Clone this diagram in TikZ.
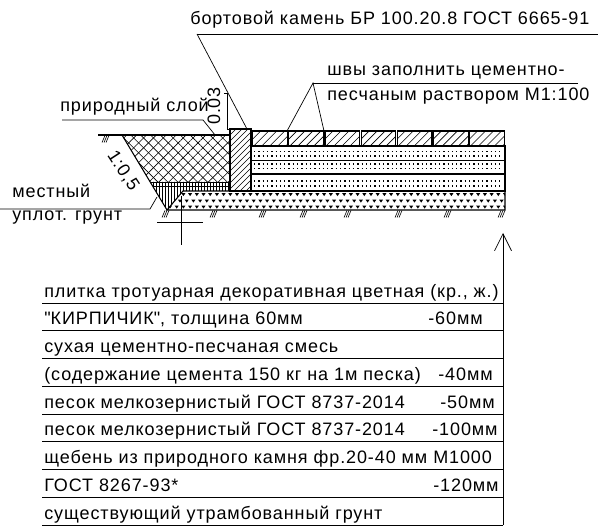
\documentclass[tikz,border=0pt]{standalone}
\usepackage{fontspec}
\setmainfont{Liberation Sans}[LetterSpace=5]
\usetikzlibrary{patterns.meta,arrows.meta}

\newcommand{\hatchbox}[5]{%
	\begin{scope}
		\clip (#1,#2) rectangle (#3,#4);
		\pgfmathsetmacro{\hh}{#4-#2}
		\foreach \t in {0,...,30}
			\draw[line width=0.6pt] ({#1-\hh+#5*\t},#4) -- ++(\hh,-\hh);
	\end{scope}
	\draw[line width=1.1pt] (#1,#2) rectangle (#3,#4);}

\begin{document}
\begin{tikzpicture}[x=1pt,y=-1pt,line width=0.7pt,
	lbl/.style={inner sep=0pt,anchor=base west,font=\fontsize{18}{18}\selectfont},
	outl/.style={line width=1.1pt},
	gnd/.pic={\draw[line width=0.6pt] (0,0) -- (-3,7) (2,0) -- (-1,7) (4,0) -- (1,7);}
]
	\useasboundingbox (0,0) rectangle (599,529);

	% trench fill
	\fill[pattern={Lines[angle=45,distance=7pt,line width=0.6pt]}] (122,135) -- (230,135) -- (230,182) -- (150,182) -- cycle;
	\fill[pattern={Lines[angle=-45,distance=7pt,line width=0.6pt]}] (122,135) -- (230,135) -- (230,182) -- (150,182) -- cycle;
	\fill[pattern={Lines[angle=90,distance=3pt,line width=0.6pt]}] (150,182) -- (230,182) -- (230,191) -- (183,191) -- (167,210) -- cycle;
	\draw (150,182) -- (230,182);
	\draw (153,186.5) -- (230,186.5);

	% curb
	\hatchbox{230}{129}{251}{191}{6}

	% tiles
	\foreach \i in {0,...,6} {
		\pgfmathsetmacro{\xa}{252+36.14*\i+0.7}
		\pgfmathsetmacro{\xb}{252+36.14*(\i+1)-0.7}
		\hatchbox{\xa}{131}{\xb}{146}{8}
	}

	% sand layers
	\draw[outl] (251,146) rectangle (505,191);
	\draw (251,160) -- (505,160);
	\draw[outl] (251,174) -- (505,174);
	\foreach \y in {151.5,156,164,168.5,181,186}
		\draw[line width=1.3pt,dash pattern=on 1.3pt off 3pt] (254,\y) -- (503,\y);

	% crushed stone
	\begin{scope}
		\clip (183,191) -- (505,191) -- (505,210) -- (167,210) -- cycle;
		\foreach \y/\o in {194.5/0,201/3.3,207/0}
			\foreach \x in {0,...,50}
				\fill[shift={({170+\o+6.7*\x},\y)}] (-2,-1.3) -- (2,-1.3) -- (0,1.6) -- cycle;
	\end{scope}
	\draw[outl] (183,191) -- (505,191) -- (505,210) -- (167,210) -- cycle;

	% ground
	\draw[outl] (98,135) -- (230,135);
	\draw[outl] (122,135) -- (167,210);
	\pic at (105,135.5) {gnd};
	\foreach \x in {165,213,262,303,347,398,447,501}
		\pic at (\x,210.5) {gnd};
	\draw (157,222) -- (203,222);
	\draw (181,196) -- (181,245);

	% labels
	\node[lbl] (curb) at (190,25) {бортовой камень БР 100.20.8 ГОСТ 6665-91};
	\draw (197,34) -- (598,34);
	\draw (197,34) -- (247,129);

	\node[lbl] (seams1) at (327,76) {швы заполнить цементно-};
	\node[lbl] (seams2) at (327,101) {песчаным раствором М1:100};
	\draw (313,83) -- (578,83);
	\draw (287,131) -- (313,83) -- (324,131);

	\node[lbl] (natlayer) at (60,112) {природный слой};
	\draw (62,120) -- (203,120) -- (215,135);
	\node[lbl,anchor=center,rotate=90] (dim) at (214,106) {0.03};
	\draw (224,93) -- (227,93) -- (227,129) -- (230,129);

	\node[lbl,anchor=center,rotate=-57] (slope) at (123,171) {1:0,5};

	\node[lbl] (soil1) at (12,198) {местный};
	\node[lbl] (soil2) at (12,221) {уплот. грунт};
	\draw (0,209) -- (150,209) -- (157,197);

	% table
	\draw[-{Straight Barb[length=17pt,width=17pt]}] (503,525) -- (503,233);
	\foreach \k in {0,...,8}
		\draw (42,{303+27.75*\k}) -- (503,{303+27.75*\k});
	\node[lbl] (r0) at (44,297) {плитка тротуарная декоративная цветная (кр., ж.)};
	\node[lbl] (r1) at (44,324.75) {\textquotedbl КИРПИЧИК\textquotedbl, толщина 60мм};
	\node[lbl] (v1) at (428,324.75) {-60мм};
	\node[lbl] (r2) at (44,352.5) {сухая цементно-песчаная смесь};
	\node[lbl] (r3) at (44,380.25) {(содержание цемента 150 кг на 1м песка)};
	\node[lbl] (v3) at (438,380.25) {-40мм};
	\node[lbl] (r4) at (44,408) {песок мелкозернистый ГОСТ 8737-2014};
	\node[lbl] (v4) at (440,408) {-50мм};
	\node[lbl] (r5) at (44,435.75) {песок мелкозернистый ГОСТ 8737-2014};
	\node[lbl] (v5) at (432,435.75) {-100мм};
	\node[lbl] (r6) at (44,463.5) {щебень из природного камня фр.20-40 мм М1000};
	\node[lbl] (r7) at (44,491.25) {ГОСТ 8267-93*};
	\node[lbl] (v7) at (433,491.25) {-120мм};
	\node[lbl] (r8) at (44,519) {существующий утрамбованный грунт};
\end{tikzpicture}
\end{document}
